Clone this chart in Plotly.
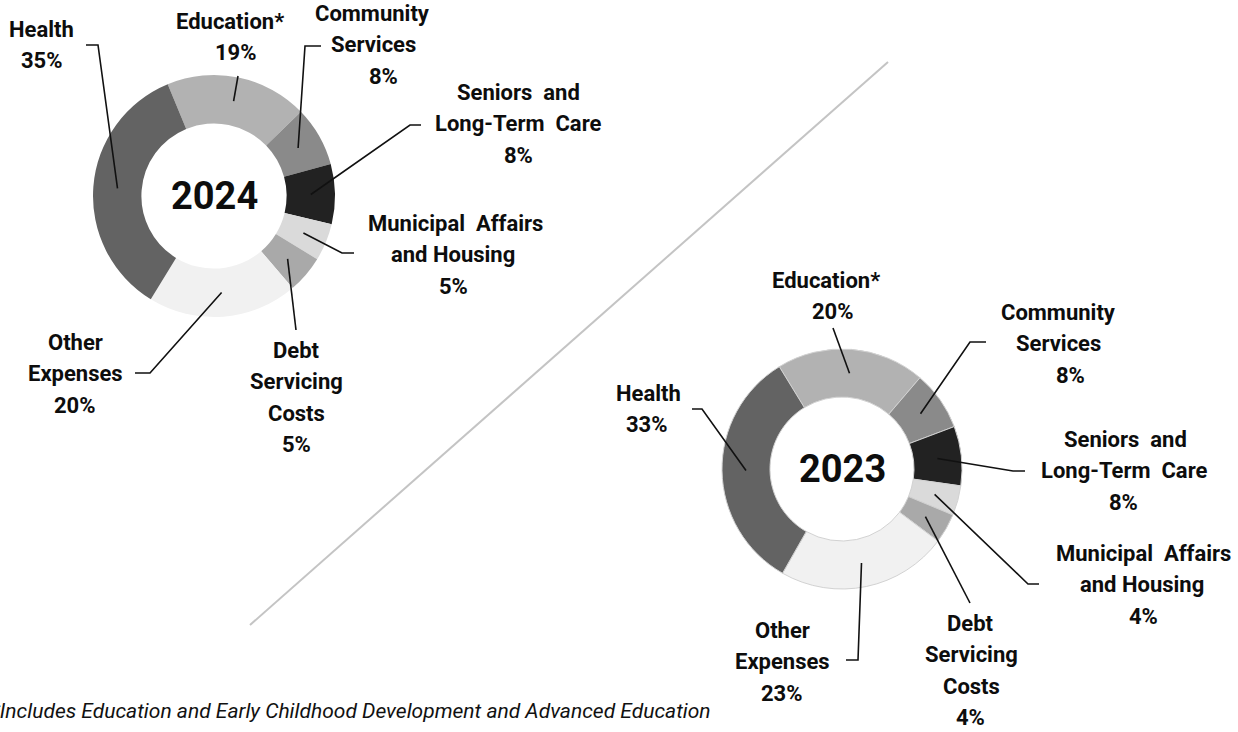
import math
import plotly.graph_objects as go

W, H = 1238, 732

# Expense categories, in clockwise order starting from Education
categories = ["Education*", "Community Services", "Seniors and Long-Term Care",
              "Municipal Affairs and Housing", "Debt Servicing Costs",
              "Other Expenses", "Health"]
share_2024 = [19, 8, 8, 5, 5, 20, 35]
share_2023 = [20, 8, 8, 4, 4, 23, 33]
slice_colors = ["#b2b2b2", "#8a8a8a", "#222222", "#dadada", "#a9a9a9", "#f1f1f1", "#636363"]

# Label lines for every category (one annotation per line)
label_lines = {
    "Education*": ["Education*"],
    "Community Services": ["Community", "Services"],
    "Seniors and Long-Term Care": ["Seniors\u00a0 and", "Long-Term\u00a0 Care"],
    "Municipal Affairs and Housing": ["Municipal\u00a0 Affairs", "and Housing"],
    "Debt Servicing Costs": ["Debt", "Servicing", "Costs"],
    "Other Expenses": ["Other", "Expenses"],
    "Health": ["Health"],
}

# Layout of each donut: centre, outer radius, start angle, label placement
pies = [
    dict(year="2024", values=share_2024, cx=214, cy=196, r=121, rotation=-22.5, border=0,
         labels={
             "Education*": dict(x=[230, 236], y=21, elbow=[(238, 76)]),
             "Community Services": dict(x=[372, 373, 383], y=13, elbow=[(305, 46), (321, 46)]),
             "Seniors and Long-Term Care": dict(x=[518, 518, 518], y=92, elbow=[(410, 125), (421, 125)]),
             "Municipal Affairs and Housing": dict(x=[455, 453, 453], y=223, elbow=[(342, 253), (354, 253)]),
             "Debt Servicing Costs": dict(x=[296, 296, 296, 296], y=350, elbow=[(296, 330)]),
             "Other Expenses": dict(x=[75, 75, 75], y=342, elbow=[(150, 373), (135, 373)]),
             "Health": dict(x=[41, 42], y=29, elbow=[(98, 45), (86, 45)]),
         }),
    dict(year="2023", values=share_2023, cx=842, cy=469, r=120, rotation=-31.5, border=1,
         labels={
             "Education*": dict(x=[826, 833], y=280, elbow=[(833, 328)]),
             "Community Services": dict(x=[1058, 1058, 1070], y=312, elbow=[(970, 342), (986, 342)]),
             "Seniors and Long-Term Care": dict(x=[1125, 1124, 1123], y=439, elbow=[(1013, 471), (1025, 471)]),
             "Municipal Affairs and Housing": dict(x=[1143, 1142, 1143], y=553, elbow=[(1028, 584), (1039, 584)]),
             "Debt Servicing Costs": dict(x=[970, 971, 971, 970], y=623, elbow=[(970, 603)]),
             "Other Expenses": dict(x=[782, 782, 782], y=630, elbow=[(858, 660), (846, 660)]),
             "Health": dict(x=[648, 647], y=393, elbow=[(702, 409), (692, 409)]),
         }),
]

HOLE = 0.6
LINE_GAP = 31.5
LABEL_FONT = dict(family="Roboto", size=22, color="#0d0d0d", weight="bold")

fig = go.Figure()
annotations = []
shapes = []

for p in pies:
    cx, cy, r = p["cx"], p["cy"], p["r"]
    fig.add_trace(go.Pie(
        labels=categories, values=p["values"], sort=False, direction="clockwise",
        rotation=p["rotation"], hole=HOLE, textinfo="none", hoverinfo="skip",
        marker=dict(colors=slice_colors, line=dict(color="#d2d2d2", width=p["border"])),
        domain=dict(x=[(cx - r) / W, (cx + r) / W], y=[1 - (cy + r) / H, 1 - (cy - r) / H]),
        showlegend=False,
    ))
    # Year in the hole
    annotations.append(dict(x=cx, y=cy, xref="x", yref="y", text=p["year"], showarrow=False,
                            font=dict(family="Roboto", size=38, color="#0d0d0d", weight="bold")))
    total = sum(p["values"])
    cum = 0
    r_mid = r * (1 + HOLE) / 2
    for name, v in zip(categories, p["values"]):
        # leader starts at the middle of the slice, halfway across the ring
        ang = math.radians(p["rotation"] + 360 * (cum + v / 2) / total)
        cum += v
        sx, sy = cx + r_mid * math.sin(ang), cy - r_mid * math.cos(ang)
        spec = p["labels"][name]
        lines = label_lines[name] + [f"{round(100 * v / total)}%"]
        for i, (txt, lx) in enumerate(zip(lines, spec["x"])):
            annotations.append(dict(x=lx, y=spec["y"] + i * LINE_GAP, xref="x", yref="y",
                                    text=txt, showarrow=False, font=LABEL_FONT))
        pts = [(sx, sy)] + spec["elbow"]
        path = "M " + " L ".join(f"{x:.1f},{y:.1f}" for x, y in pts)
        shapes.append(dict(type="path", path=path, xref="x", yref="y",
                           line=dict(color="#111111", width=1.6)))

# Divider between the two years
shapes.append(dict(type="line", x0=250, y0=625, x1=888, y1=62, xref="x", yref="y",
                   line=dict(color="#c4c4c4", width=2)))

annotations.append(dict(
    x=713, y=711, xref="x", yref="y", xanchor="right", showarrow=False,
    text="*Includes Education and Early Childhood Development and Advanced Education",
    font=dict(family="Roboto", size=21, color="#111111", style="italic")))

fig.update_layout(
    width=W, height=H, margin=dict(l=0, r=0, t=0, b=0),
    paper_bgcolor="white", plot_bgcolor="white",
    xaxis=dict(range=[0, W], visible=False, domain=[0, 1], fixedrange=True),
    yaxis=dict(range=[H, 0], visible=False, domain=[0, 1], fixedrange=True),
    annotations=annotations, shapes=shapes,
)

fig.write_html("out.html")
